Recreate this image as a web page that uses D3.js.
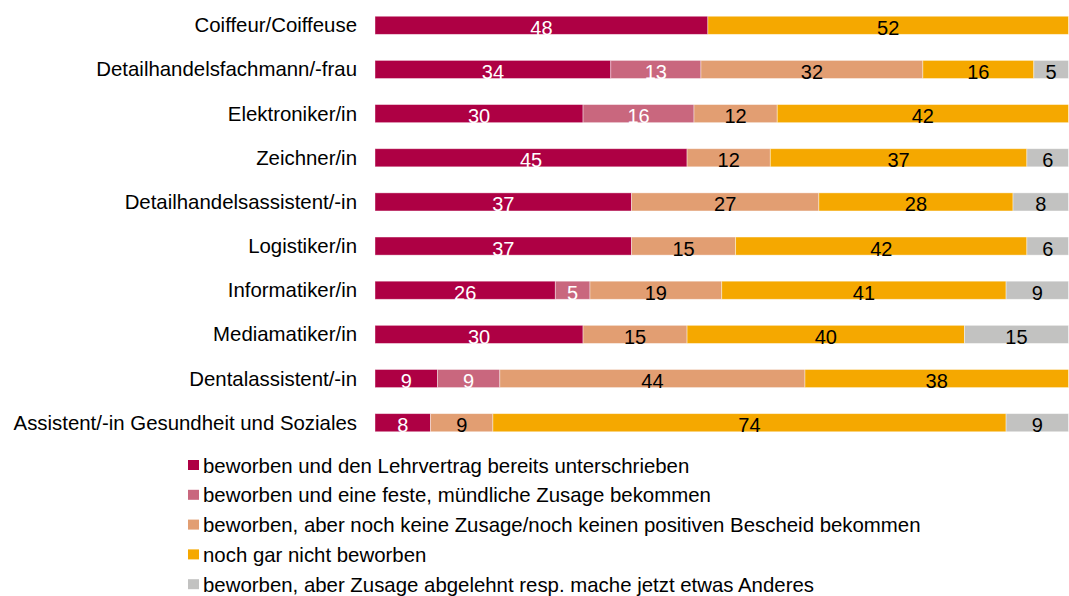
<!DOCTYPE html>
<html>
<head>
<meta charset="utf-8">
<script src="https://cdn.jsdelivr.net/npm/d3@7"></script>
<style>
  body { margin: 0; background: #fff; }
  text { font-family: "Liberation Sans", Arial, sans-serif; }
</style>
</head>
<body>
<div class="chartContainer"></div>
<script>
const categories = [
  "Coiffeur/Coiffeuse",
  "Detailhandelsfachmann/-frau",
  "Elektroniker/in",
  "Zeichner/in",
  "Detailhandelsassistent/-in",
  "Logistiker/in",
  "Informatiker/in",
  "Mediamatiker/in",
  "Dentalassistent/-in",
  "Assistent/-in Gesundheit und Soziales"
];

const seriesNames = [
  "beworben und den Lehrvertrag bereits unterschrieben",
  "beworben und eine feste, mündliche Zusage bekommen",
  "beworben, aber noch keine Zusage/noch keinen positiven Bescheid bekommen",
  "noch gar nicht beworben",
  "beworben, aber Zusage abgelehnt resp. mache jetzt etwas Anderes"
];

const unterschrieben = [48, 34, 30, 45, 37, 37, 26, 30, 9, 8];
const zusage = [0, 13, 16, 0, 0, 0, 5, 0, 9, 0];
const keineZusage = [0, 32, 12, 12, 27, 15, 19, 15, 44, 9];
const nichtBeworben = [52, 16, 42, 37, 28, 42, 41, 40, 38, 74];
const abgelehnt = [0, 5, 0, 6, 8, 6, 9, 15, 0, 9];

const colors = ["#AE0044", "#C9677E", "#E29E72", "#F5A800", "#C2C2C1"];
const labelColors = ["#fff", "#fff", "#000", "#000", "#000"];

const w = 1069;
const h = 596;

const table = categories.map((c, i) => ({
  cat: c,
  s0: unterschrieben[i],
  s1: zusage[i],
  s2: keineZusage[i],
  s3: nichtBeworben[i],
  s4: abgelehnt[i]
}));
const keys = ["s0", "s1", "s2", "s3", "s4"];
const stacked = d3.stack().keys(keys)(table);

const xScale = d3.scaleLinear().domain([0, 100]).range([375, 1068.5]);
const yScale = d3.scaleBand()
  .domain(categories)
  .range([3, 445])
  .paddingInner(0.59)
  .paddingOuter(0.3);

const svg = d3.select(".chartContainer")
  .append("svg")
  .attr("width", w)
  .attr("height", h);

const groups = svg.selectAll("g.series")
  .data(stacked)
  .enter()
  .append("g")
  .attr("class", "series");

groups.selectAll("rect")
  .data((d) => d.map((v) => ({ v: v, key: d.key })))
  .enter()
  .filter((d) => d.v[1] - d.v[0] > 0)
  .append("rect")
  .attr("x", (d) => xScale(d.v[0]))
  .attr("y", (d) => yScale(d.v.data.cat))
  .attr("width", (d) => xScale(d.v[1]) - xScale(d.v[0]))
  .attr("height", yScale.bandwidth())
  .attr("fill", (d) => colors[keys.indexOf(d.key)])
  .attr("stroke", "rgba(255,255,255,0.5)")
  .attr("stroke-width", 0.8);

groups.selectAll("text")
  .data((d) => d.map((v) => ({ v: v, key: d.key })))
  .enter()
  .filter((d) => d.v[1] - d.v[0] > 0)
  .append("text")
  .attr("x", (d) => (xScale(d.v[0]) + xScale(d.v[1])) / 2)
  .attr("y", (d) => yScale(d.v.data.cat) + yScale.bandwidth() / 2 + 9.5)
  .attr("text-anchor", "middle")
  .attr("font-size", "20px")
  .attr("fill", (d) => labelColors[keys.indexOf(d.key)])
  .text((d) => d.v[1] - d.v[0]);

const yAxis = d3.axisLeft(yScale).tickSize(0).tickPadding(0);
const yAxisG = svg.append("g")
  .attr("transform", "translate(357,0)")
  .call(yAxis);
yAxisG.select(".domain").remove();
yAxisG.selectAll("text")
  .attr("font-size", "20.4px")
  .attr("fill", "#000")
  .attr("dy", null)
  .attr("y", 7)
  .style("font-family", "'Liberation Sans', Arial, sans-serif");

const legend = svg.selectAll("g.legend")
  .data(seriesNames)
  .enter()
  .append("g")
  .attr("class", "legend")
  .attr("transform", (d, i) => "translate(188," + (465.5 + i * 29.8) + ")");

legend.append("rect")
  .attr("x", 0)
  .attr("y", -5.5)
  .attr("width", 11)
  .attr("height", 10)
  .attr("fill", (d, i) => colors[i]);

legend.append("text")
  .attr("x", 15)
  .attr("y", 7)
  .attr("font-size", "20.4px")
  .attr("fill", "#000")
  .text((d) => d);
</script>
</body>
</html>
